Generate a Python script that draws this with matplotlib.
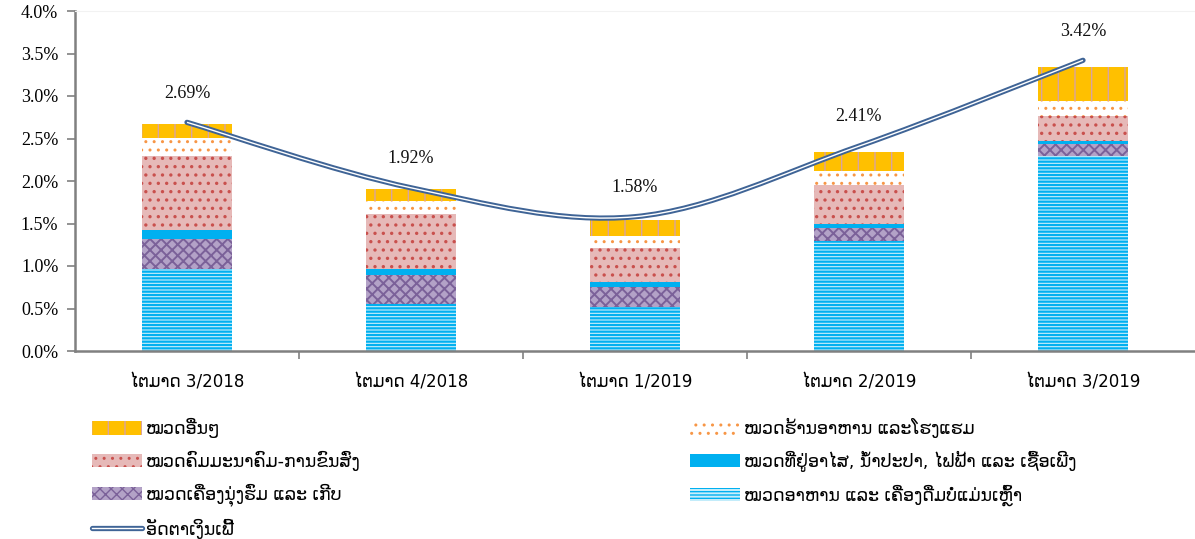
import matplotlib
matplotlib.use("Agg")
import matplotlib.pyplot as plt
import numpy as np
from matplotlib.lines import Line2D
from matplotlib.patches import Patch, PathPatch
from matplotlib.path import Path

# quarters
quarters = ["ໄຕມາດ 3/2018", "ໄຕມາດ 4/2018", "ໄຕມາດ 1/2019", "ໄຕມາດ 2/2019", "ໄຕມາດ 3/2019"]

# contributions (percentage points), bottom to top
food = [0.96, 0.55, 0.52, 1.29, 2.29]
clothing = [0.36, 0.34, 0.235, 0.16, 0.15]
housing = [0.10, 0.07, 0.06, 0.05, 0.035]
transport = [0.87, 0.65, 0.40, 0.45, 0.29]
restaurants = [0.22, 0.15, 0.14, 0.165, 0.18]
other = [0.16, 0.14, 0.19, 0.225, 0.40]

inflation = [2.69, 1.92, 1.58, 2.41, 3.42]

lbl_food = "ໝວດອາຫານ ແລະ ເຄື່ອງດື່ມບໍ່ແມ່ນເຫຼົ້າ"
lbl_clothing = "ໝວດເຄື່ອງນຸ່ງຮົ່ມ ແລະ ເກີບ"
lbl_housing = "ໝວດທີ່ຢູ່ອາໄສ, ນ້ຳປະປາ, ໄຟຟ້າ ແລະ ເຊື້ອເພີງ"
lbl_transport = "ໝວດຄົມມະນາຄົມ-ການຂົນສົ່ງ"
lbl_restaurants = "ໝວດຮ້ານອາຫານ ແລະໂຮງແຮມ"
lbl_other = "ໝວດອື່ນໆ"
lbl_inflation = "ອັດຕາເງິນເຟີ້"

plt.rcParams["font.family"] = ["DejaVu Sans"]

fig = plt.figure(figsize=(11.95, 5.39), dpi=100)
ax = fig.add_axes([75 / 1195, 1 - 351 / 539, 1 - 75 / 1195, 340 / 539])

x = np.arange(len(quarters))
w = 0.4

# (values, label, patch style, hatch line width)
styles = [
    (food, lbl_food, dict(facecolor="#C9EEFB", edgecolor="#00B0F0", hatch="-----"), 1.6),
    (clothing, lbl_clothing, dict(facecolor="#B3A2C7", edgecolor="#7B6199", hatch="xxx"), 1.4),
    (housing, lbl_housing, dict(facecolor="#00B0F0", edgecolor="#00B0F0", hatch=None), 1.0),
    (transport, lbl_transport, dict(facecolor="#E6B9B8", edgecolor="#C9504D", hatch=".."), 1.2),
    (restaurants, lbl_restaurants, dict(facecolor="white", edgecolor="#F79646", hatch=".."), 1.0),
    (other, lbl_other, dict(facecolor="#FFC000", edgecolor="#D9A3A0", hatch="|"), 1.0),
]

handles = {}
bottom = np.zeros(len(quarters))
for vals, lbl, st, hlw in styles:
    plt.rcParams["hatch.linewidth"] = hlw
    ax.bar(x, vals, w, bottom=bottom, linewidth=0, **st)
    handles[lbl] = Patch(linewidth=0, **st)
    bottom += np.array(vals)

# smoothed line (Catmull-Rom style bezier, like the spreadsheet smoothing)
pts = np.column_stack([x, inflation]).astype(float)
ext = np.vstack([pts[0], pts, pts[-1]])
verts = [tuple(pts[0])]
codes = [Path.MOVETO]
for i in range(len(pts) - 1):
    p0, p1, p2, p3 = ext[i], ext[i + 1], ext[i + 2], ext[i + 3]
    c1 = p1 + (p2 - p0) / 6
    c2 = p2 - (p3 - p1) / 6
    verts += [tuple(c1), tuple(c2), tuple(p2)]
    codes += [Path.CURVE4] * 3
path = Path(verts, codes)
ax.add_patch(PathPatch(path, facecolor="none", edgecolor="#3F6496", linewidth=3.8, capstyle="round", zorder=3))
ax.add_patch(PathPatch(path, facecolor="none", edgecolor="white", linewidth=1.0, zorder=4))

for xi, v in zip(x, inflation):
    ax.annotate(f"{v:.2f}%", (xi, v), xytext=(0, 21), textcoords="offset points", ha="center",
                va="center", fontsize=13, family="Liberation Serif", color="#111111")

ax.set_xlim(-0.5, len(quarters) - 0.5)
ax.set_ylim(0, 4.0)
ax.set_yticks(np.arange(0, 4.01, 0.5))
ax.set_yticklabels([f"{t:.1f}%" for t in np.arange(0, 4.01, 0.5)], family="Liberation Serif", fontsize=13)
ax.set_xticks(x)
ax.set_xticklabels(quarters, fontsize=12)
ax.set_xticks(np.arange(0.5, len(quarters) - 0.5, 1), minor=True)
ax.tick_params(axis="x", which="major", length=0, pad=16)
ax.tick_params(axis="x", which="minor", length=6, color="#808080", width=1.2)
ax.tick_params(axis="y", length=6, color="#808080", width=1.2, pad=6)

for s in ["left", "bottom"]:
    ax.spines[s].set_color("#808080")
    ax.spines[s].set_linewidth(1.8)
ax.spines["top"].set_color("#F2F2F2")
ax.spines["right"].set_visible(False)

line_handle = (Line2D([], [], color="#3F6496", linewidth=3.8, solid_capstyle="round"),
               Line2D([], [], color="white", linewidth=1.0))

left_h = [handles[lbl_other], handles[lbl_transport], handles[lbl_clothing], line_handle]
left_l = [lbl_other, lbl_transport, lbl_clothing, lbl_inflation]
right_h = [handles[lbl_restaurants], handles[lbl_housing], handles[lbl_food]]
right_l = [lbl_restaurants, lbl_housing, lbl_food]

leg_kw = dict(loc="upper left", frameon=False, fontsize=12.5, handlelength=2.9, handleheight=0.8,
              handletextpad=0.2, labelspacing=0.72, borderaxespad=0, borderpad=0)
leg1 = fig.legend(left_h, left_l, bbox_to_anchor=(92 / 1195, 1 - 418 / 539), **leg_kw)
fig.legend(right_h, right_l, bbox_to_anchor=(690 / 1195, 1 - 418 / 539), **leg_kw)

fig.savefig("out.png", dpi=100)
